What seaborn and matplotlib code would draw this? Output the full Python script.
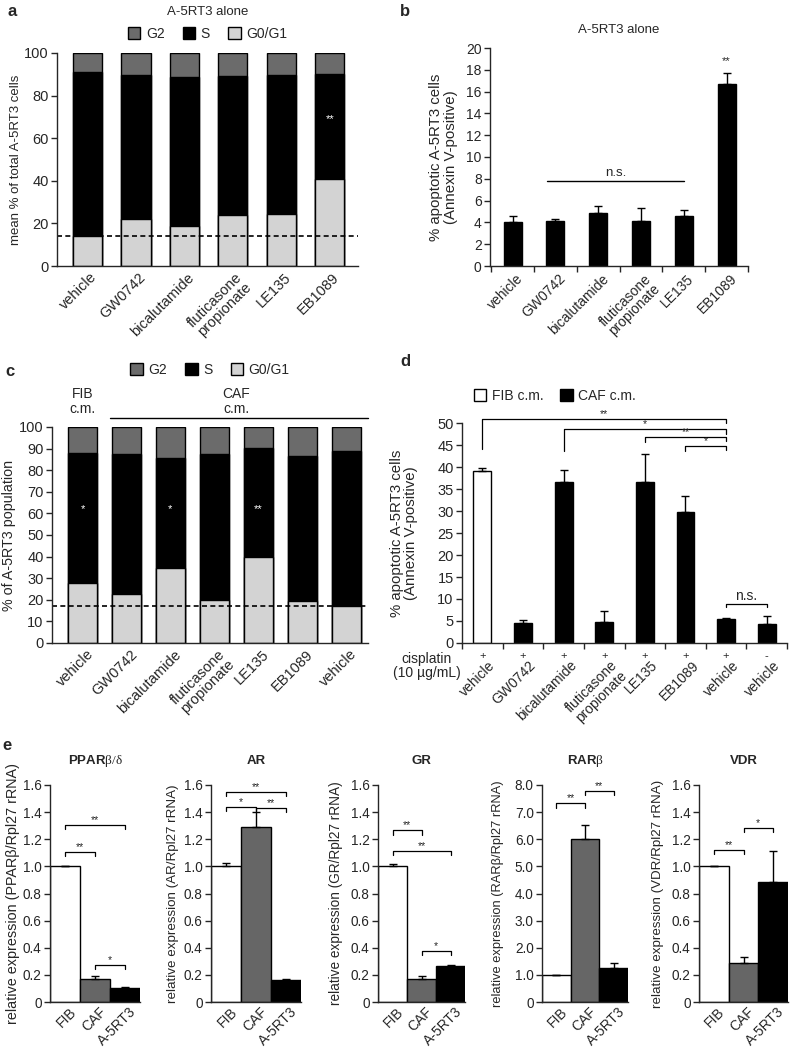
import numpy as np
import pandas as pd
import matplotlib
matplotlib.use('Agg')
import matplotlib.pyplot as plt
from matplotlib.patches import Patch
from matplotlib.transforms import ScaledTranslation
import seaborn as sns

# panel a - cell cycle, A-5RT3 alone (% of cells)
drugs = ['vehicle', 'GW0742', 'bicalutamide', 'fluticasone\npropionate', 'LE135', 'EB1089']
a_g0 = [14, 22, 19, 24, 24.5, 41]
a_s = [77, 67.5, 69.5, 65, 65, 49]
a_g2 = [9, 10.5, 11.5, 11, 10.5, 10]

# panel b - apoptosis, A-5RT3 alone
b_mean = [4.0, 4.1, 4.9, 4.1, 4.6, 16.7]
b_err = [0.6, 0.2, 0.6, 1.2, 0.5, 1.0]

# panel c - cell cycle with conditioned medium
c_labels = ['vehicle', 'GW0742', 'bicalutamide', 'fluticasone\npropionate', 'LE135', 'EB1089', 'vehicle']
c_g0 = [28, 22.5, 34.5, 20, 40, 19.5, 17]
c_s = [60, 65, 51, 67.5, 50.5, 67, 72]
c_g2 = [12, 12.5, 14.5, 12.5, 9.5, 13.5, 11]
c_stars = ['*', '', '*', '', '**', '', '']

# panel d - apoptosis with cisplatin
d_labels = ['vehicle', 'GW0742', 'bicalutamide', 'fluticasone\npropionate', 'LE135', 'EB1089', 'vehicle', 'vehicle']
d_medium = ['FIB c.m.'] + ['CAF c.m.'] * 7
d_cis = ['+', '+', '+', '+', '+', '+', '+', '-']
d_mean = [39.0, 4.5, 36.5, 4.8, 36.5, 29.8, 5.5, 4.4]
d_err = [0.7, 0.8, 2.8, 2.5, 6.5, 3.5, 0.1, 1.7]

# panel e - receptor expression
cells = ['FIB', 'CAF', 'A-5RT3']
ppar_mean = [1.0, 0.17, 0.105]
ppar_err = [0.005, 0.025, 0.008]
ar_mean = [1.0, 1.29, 0.165]
ar_err = [0.025, 0.11, 0.006]
gr_mean = [1.0, 0.17, 0.265]
gr_err = [0.015, 0.025, 0.008]
rar_mean = [0.98, 6.0, 1.25]
rar_err = [0.03, 0.52, 0.17]
vdr_mean = [1.0, 0.29, 0.885]
vdr_err = [0.005, 0.045, 0.23]

sns.set_style('ticks')
plt.rcParams['font.family'] = ['Liberation Sans', 'DejaVu Sans']
plt.rcParams['mathtext.fontset'] = 'custom'
plt.rcParams['mathtext.rm'] = 'Liberation Serif'
plt.rcParams['mathtext.bf'] = 'Liberation Sans:bold'
plt.rcParams['axes.linewidth'] = 1.0

C_G2 = '#6b6b6b'
C_G0 = '#d3d3d3'
C_CAF = '#666666'
FS = 9.5
YT = 10      # y tick labels
XT = 10.5    # x tick labels

W, H = 790, 1048
fig = plt.figure(figsize=(W / 100, H / 100), dpi=100)


def px_axes(x0, y_top, x1, y_bot):
    return fig.add_axes([x0 / W, 1 - y_bot / H, (x1 - x0) / W, (y_bot - y_top) / H])


def style(ax, yt=YT):
    sns.despine(ax=ax)
    ax.tick_params(axis='y', labelsize=yt, length=4, width=1, direction='out', pad=2)
    ax.tick_params(axis='x', length=0)
    ax.set_xlabel('')


def rot_labels(ax, labels, pad=2, fs=XT, dx=3):
    ax.set_xticks(range(len(labels)))
    ax.set_xticklabels(labels, rotation=45, ha='right', va='top',
                       rotation_mode='anchor', multialignment='center', fontsize=fs,
                       linespacing=0.95)
    ax.tick_params(axis='x', pad=pad)
    shift = ScaledTranslation(dx / 100, 0, fig.dpi_scale_trans)
    for lab in ax.get_xticklabels():
        lab.set_transform(lab.get_transform() + shift)


def stacked(ax, labels, g0, s, g2, width):
    x = list(range(len(labels)))
    mid = [a + b for a, b in zip(g0, s)]
    tot = [a + b for a, b in zip(mid, g2)]
    for vals, col in [(tot, C_G2), (mid, 'black'), (g0, C_G0)]:
        sns.barplot(x=x, y=vals, color=col, saturation=1, width=width,
                    edgecolor='black', linewidth=1, ax=ax)


def phase_legend(ax, y):
    handles = [Patch(facecolor=C_G2, edgecolor='black', label='G2'),
               Patch(facecolor='black', edgecolor='black', label='S'),
               Patch(facecolor=C_G0, edgecolor='black', label='G0/G1')]
    ax.legend(handles=handles, ncol=3, frameon=False, loc='center',
              bbox_to_anchor=(0.5, y), fontsize=FS + 0.5, handlelength=0.9,
              handleheight=0.9, handletextpad=0.4, columnspacing=1.3)


def boundary_ticks(ax, n):
    ax.set_xticks(np.arange(-0.5, n, 1.0), minor=True)
    ax.tick_params(axis='x', which='minor', length=4, width=1, direction='out')


def bracket(ax, x1, x2, h, d1, d2, text, fs=7.5, ty=0.0):
    ax.plot([x1, x1, x2, x2], [h - d1, h, h, h - d2], color='black', lw=0.9,
            clip_on=False)
    ax.text((x1 + x2) / 2, h + ty, text, ha='center', va='bottom', fontsize=fs)


# ---------------- panel a
ax = px_axes(57, 53, 358, 266)
stacked(ax, drugs, a_g0, a_s, a_g2, 0.6)
ax.axhline(a_g0[0], color='black', ls=(0, (3, 2)), lw=1.2)
ax.set_xlim(-0.63, 5.58)
ax.set_ylim(0, 100)
ax.set_yticks([0, 20, 40, 60, 80, 100])
style(ax, yt=10.5)
rot_labels(ax, drugs, pad=3, dx=2)
ax.text(5, 69, '**', color='white', ha='center', va='center', fontsize=8)
ax.set_ylabel('mean % of total A-5RT3 cells', fontsize=FS)
ax.yaxis.set_label_coords(-0.116, 0.5)
ax.set_title('A-5RT3 alone', fontsize=FS, y=1.14)
phase_legend(ax, 1.09)
fig.text(8 / W, 1 - 12 / H, 'a', fontsize=12, fontweight='bold', va='center')

# ---------------- panel b
ax = px_axes(490, 48, 748, 266)
sns.barplot(x=list(range(6)), y=b_mean, color='black', saturation=1, width=0.42,
            edgecolor='black', ax=ax)
ax.errorbar(range(6), b_mean, yerr=[np.zeros(6), b_err], fmt='none',
            ecolor='black', elinewidth=1, capsize=3, capthick=1)
ax.set_xlim(-0.53, 5.47)
ax.set_ylim(0, 20)
ax.set_yticks(range(0, 21, 2))
style(ax)
rot_labels(ax, drugs, pad=4, fs=10)
boundary_ticks(ax, 6)
ax.plot([0.8, 4.0], [7.8, 7.8], color='black', lw=1)
ax.text(2.4, 8.0, 'n.s.', ha='center', va='bottom', fontsize=FS)
ax.text(5, b_mean[5] + b_err[5] + 0.6, '**', ha='center', va='bottom', fontsize=8)
ax.set_ylabel('% apoptotic A-5RT3 cells\n(Annexin V-positive)', fontsize=10.8,
              linespacing=1.05)
ax.yaxis.set_label_coords(-0.124, 0.5)
ax.set_title('A-5RT3 alone', fontsize=FS, y=1.03)
fig.text(400 / W, 1 - 12 / H, 'b', fontsize=12, fontweight='bold', va='center')

# ---------------- panel c
ax = px_axes(52, 427, 368, 643)
stacked(ax, c_labels, c_g0, c_s, c_g2, 0.66)
ax.axhline(c_g0[-1] + 0.3, color='black', ls=(0, (3, 2)), lw=1.2)
ax.set_xlim(-0.695, 6.5)
ax.set_ylim(0, 100)
ax.set_yticks(range(0, 101, 10))
style(ax, yt=10.5)
rot_labels(ax, c_labels, pad=3, dx=4)
for i, st in enumerate(c_stars):
    if st:
        ax.text(i, 62, st, color='white', ha='center', va='center', fontsize=8)
ax.text(0, 112, 'FIB\nc.m.', ha='center', va='center', fontsize=FS + 0.5,
        linespacing=1.1, clip_on=False)
ax.text(3.5, 112, 'CAF\nc.m.', ha='center', va='center', fontsize=FS + 0.5,
        linespacing=1.1, clip_on=False)
ax.plot([0.63, 6.5], [104.2, 104.2], color='black', lw=1, clip_on=False)
ax.set_ylabel('% of A-5RT3 population', fontsize=10.3)
ax.yaxis.set_label_coords(-0.114, 0.5)
phase_legend(ax, 1.264)
fig.text(5 / W, 1 - 372 / H, 'c', fontsize=12, fontweight='bold', va='center')

# ---------------- panel d
ax = px_axes(462, 423, 787, 643)
sns.barplot(x=list(range(8)), y=d_mean, hue=d_medium,
            palette={'FIB c.m.': 'white', 'CAF c.m.': 'black'}, dodge=False,
            saturation=1, width=0.44, edgecolor='black', linewidth=1,
            legend=False, ax=ax)
ax.errorbar(range(8), d_mean, yerr=[np.zeros(8), d_err], fmt='none',
            ecolor='black', elinewidth=1, capsize=3, capthick=1)
ax.set_xlim(-0.5, 7.5)
ax.set_ylim(0, 50)
ax.set_yticks(range(0, 51, 5))
style(ax, yt=10.5)
rot_labels(ax, d_labels, pad=11, fs=10, dx=6)
boundary_ticks(ax, 8)
for i, sgn in enumerate(d_cis):
    ax.text(i, -0.06, sgn, ha='center', va='center', fontsize=8,
            transform=ax.get_xaxis_transform())
fig.text(427 / W, 1 - 666 / H, 'cisplatin\n(10 µg/mL)', ha='center', va='center',
         fontsize=10, linespacing=1.05)
bracket(ax, 0, 6, 51.0, 7.0, 1.0, '**')
bracket(ax, 2, 6, 48.6, 5.0, 1.0, '*')
bracket(ax, 4, 6, 46.8, 1.2, 1.0, '**')
bracket(ax, 5, 6, 44.8, 1.2, 1.0, '*')
bracket(ax, 6, 7, 8.9, 0.8, 0.8, 'n.s.', fs=FS + 0.5, ty=0.3)
ax.set_ylabel('% apoptotic A-5RT3 cells\n(Annexin V-positive)', fontsize=10.8,
              linespacing=1.05)
ax.yaxis.set_label_coords(-0.135, 0.5)
leg = [Patch(facecolor='white', edgecolor='black', label='FIB c.m.'),
       Patch(facecolor='black', edgecolor='black', label='CAF c.m.')]
ax.legend(handles=leg, ncol=2, frameon=False, loc='center',
          bbox_to_anchor=(0.286, 1.123), fontsize=FS + 0.5, handlelength=0.9,
          handleheight=0.9, handletextpad=0.4, columnspacing=1.2)
fig.text(400 / W, 1 - 362 / H, 'd', fontsize=12, fontweight='bold', va='center')

# ---------------- panel e
e_means = [ppar_mean, ar_mean, gr_mean, rar_mean, vdr_mean]
e_errs = [ppar_err, ar_err, gr_err, rar_err, vdr_err]
e_titles = [r'$\mathbf{PPAR}\mathrm{\beta/\delta}$', 'AR', 'GR',
            r'$\mathbf{RAR}\mathrm{\beta}$', 'VDR']
e_ylabels = ['relative expression (PPARβ/Rpl27 rRNA)',
             'relative expression (AR/Rpl27 rRNA)',
             'relative expression (GR/Rpl27 rRNA)',
             'relative expression (RARβ/Rpl27 rRNA)',
             'relative expression (VDR/Rpl27 rRNA)']
e_ylab_fs = [10.4, 9.6, 9.8, 9.3, 9.6]
e_ylab_x = [-0.33, -0.355, -0.40, -0.44, -0.39]
e_left = [50, 211, 378, 542, 699]
e_right = [140, 301, 465, 628, 788]
e_brackets = [
    [(0, 1, 1.106, '**'), (0, 2, 1.305, '**'), (1, 2, 0.273, '*')],
    [(0, 1, 1.44, '*'), (0, 2, 1.55, '**'), (1, 2, 1.43, '**')],
    [(0, 1, 1.266, '**'), (0, 2, 1.113, '**'), (1, 2, 0.376, '*')],
    [(0, 1, 7.32, '**'), (1, 2, 7.79, '**')],
    [(0, 1, 1.12, '**'), (1, 2, 1.286, '*')],
]
for k in range(5):
    ax = px_axes(e_left[k], 785, e_right[k], 1002)
    sns.barplot(x=list(range(3)), y=e_means[k], hue=cells,
                palette={'FIB': 'white', 'CAF': C_CAF, 'A-5RT3': 'black'},
                dodge=False, saturation=1, width=1.0, edgecolor='black',
                linewidth=1, legend=False, ax=ax)
    ax.errorbar(range(3), e_means[k], yerr=[np.zeros(3), e_errs[k]], fmt='none',
                ecolor='black', elinewidth=1, capsize=3, capthick=1)
    ax.set_xlim(-0.5, 2.5)
    top = 8.0 if k == 3 else 1.6
    ax.set_ylim(0, top)
    ticks = np.linspace(0, top, 9)
    ax.set_yticks(ticks)
    ax.set_yticklabels(['0'] + [f'{t:.1f}' for t in ticks[1:]])
    style(ax, yt=9.8)
    rot_labels(ax, cells, pad=2, fs=10, dx=4)
    d = top * 0.02
    for x1, x2, h, st in e_brackets[k]:
        bracket(ax, x1, x2, h, d, d, st, fs=7.5)
    ax.set_ylabel(e_ylabels[k], fontsize=e_ylab_fs[k])
    ax.yaxis.set_label_coords(e_ylab_x[k], 0.5)
    ax.set_title(e_titles[k], fontsize=FS, fontweight='bold', y=1.06)
fig.text(2 / W, 1 - 745 / H, 'e', fontsize=12, fontweight='bold', va='center')

fig.savefig('out.png', dpi=100)
